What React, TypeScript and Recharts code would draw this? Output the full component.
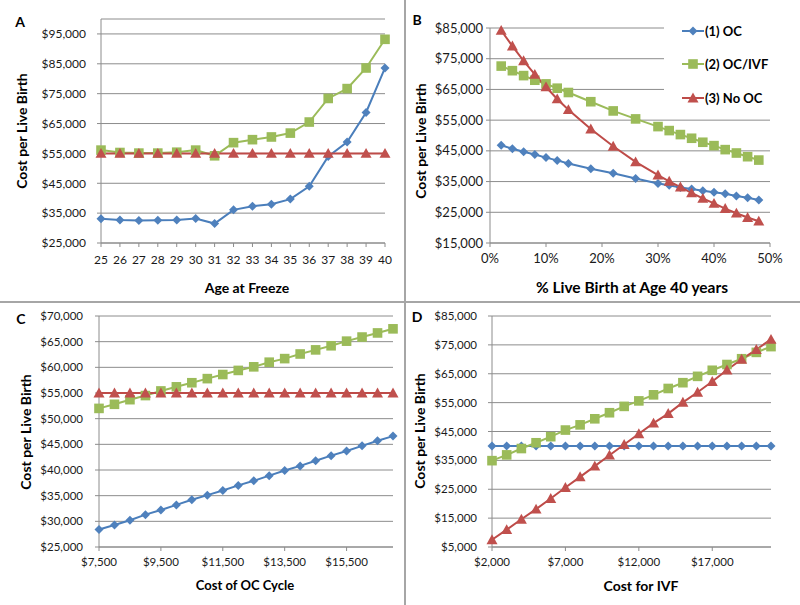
import React from 'react'
import { CartesianGrid, Line, LineChart, XAxis, YAxis } from 'recharts'

// Panel A: age at freeze
const ages = [25, 26, 27, 28, 29, 30, 31, 32, 33, 34, 35, 36, 37, 38, 39, 40]
const ageOC = [33100, 32700, 32500, 32600, 32700, 33200, 31500, 36100, 37300, 38000, 39700, 44000, 54000, 58800, 68700, 83600]
const ageOCIVF = [56100, 55300, 55100, 55100, 55400, 56100, 54200, 58600, 59600, 60500, 61800, 65500, 73400, 76700, 83600, 93200]
const ageNoOC = [55000, 55000, 55000, 55000, 55000, 55000, 55000, 55000, 55000, 55000, 55000, 55000, 55000, 55000, 55000, 55000]
const ageYTicks = [25000, 35000, 45000, 55000, 65000, 75000, 85000, 95000]

// Panel B: % live birth at age 40
const livePct = [2, 4, 6, 8, 10, 12, 14, 18, 22, 26, 30, 32, 34, 36, 38, 40, 42, 44, 46, 48]
const pctOC = [46800, 45700, 44700, 43800, 42800, 41900, 40900, 39200, 37700, 36000, 34400, 33800, 33100, 32600, 32000, 31500, 31000, 30300, 29700, 29000]
const pctOCIVF = [72600, 71100, 69500, 68000, 66800, 65400, 64000, 61000, 58000, 55400, 52900, 51600, 50300, 49100, 47800, 46700, 45400, 44300, 43100, 42000]
const pctNoOC = [84200, 79100, 74300, 69900, 65800, 61900, 58400, 52100, 46500, 41400, 37100, 35100, 33200, 31300, 29500, 27900, 26200, 24700, 23300, 22100]
const pctXTicks = [0, 10, 20, 30, 40, 50]
const pctYTicks = [15000, 25000, 35000, 45000, 55000, 65000, 75000, 85000]

// Panel C: cost of OC cycle
const ocCost = [7500, 8000, 8500, 9000, 9500, 10000, 10500, 11000, 11500, 12000, 12500, 13000, 13500, 14000, 14500, 15000, 15500, 16000, 16500, 17000]
const ocOC = [28400, 29300, 30200, 31300, 32200, 33200, 34200, 35100, 36000, 37000, 37900, 38900, 39900, 40800, 41800, 42800, 43700, 44700, 45700, 46600]
const ocOCIVF = [52000, 52800, 53700, 54500, 55400, 56200, 57000, 57800, 58600, 59400, 60100, 61000, 61700, 62600, 63400, 64200, 65100, 65900, 66700, 67500]
const ocNoOC = [55000, 55000, 55000, 55000, 55000, 55000, 55000, 55000, 55000, 55000, 55000, 55000, 55000, 55000, 55000, 55000, 55000, 55000, 55000, 55000]
const ocXTicks = [7500, 9500, 11500, 13500, 15500]
const ocYTicks = [25000, 30000, 35000, 40000, 45000, 50000, 55000, 60000, 65000, 70000]

// Panel D: cost for IVF
const ivfCost = [2000, 3000, 4000, 5000, 6000, 7000, 8000, 9000, 10000, 11000, 12000, 13000, 14000, 15000, 16000, 17000, 18000, 19000, 20000, 21000]
const ivfOC = [40000, 40000, 40000, 40000, 40000, 40000, 40000, 40000, 40000, 40000, 40000, 40000, 40000, 40000, 40000, 40000, 40000, 40000, 40000, 40000]
const ivfOCIVF = [34900, 36900, 39100, 41100, 43200, 45500, 47300, 49400, 51500, 53700, 55600, 57700, 59900, 61900, 64100, 66200, 68200, 70200, 72400, 74400]
const ivfNoOC = [7500, 11000, 14600, 18100, 21800, 25600, 29300, 33000, 36800, 40500, 44200, 47900, 51200, 55100, 58600, 62300, 66300, 70000, 73400, 76900]
const ivfXTicks = [2000, 7000, 12000, 17000]
const ivfYTicks = [5000, 15000, 25000, 35000, 45000, 55000, 65000, 75000, 85000]

const seriesNames = ['(1) OC', '(2) OC/IVF', '(3) No OC']

const BLUE = '#4a7ebb'
const BLUE_M = '#4f81bd'
const GREEN = '#9bbb59'
const RED = '#be4b48'
const RED_M = '#c0504d'
const GRID = '#8c8c8c'
const FONT = 'Lato, "Open Sans", sans-serif'

const money = (v: number) => '$' + v.toLocaleString('en-US')

function diamond(cx: number, cy: number, r: number, fill: string, key?: string) {
  return <path key={key} d={`M${cx},${cy - r}L${cx + r},${cy}L${cx},${cy + r}L${cx - r},${cy}Z`} fill={fill} />
}
function square(cx: number, cy: number, r: number, fill: string, key?: string) {
  return <rect key={key} x={cx - r} y={cy - r} width={r * 2} height={r * 2} fill={fill} />
}
function triangle(cx: number, cy: number, r: number, fill: string, key?: string) {
  return <path key={key} d={`M${cx},${cy - r}L${cx + r},${cy + r * 0.8}L${cx - r},${cy + r * 0.8}Z`} fill={fill} />
}

const dotOC = (p: any) => (p.cx == null ? <g key={p.key} /> : diamond(p.cx, p.cy, 4.5, BLUE_M, p.key))
const dotOCIVF = (p: any) => (p.cx == null ? <g key={p.key} /> : square(p.cx, p.cy, 4.8, GREEN, p.key))
const dotNoOC = (p: any) => (p.cx == null ? <g key={p.key} /> : triangle(p.cx, p.cy, 5.5, RED_M, p.key))

type PanelProps = {
  xs: number[]
  oc: number[]
  ocivf: number[]
  nooc: number[]
  xDomain: [number, number]
  xTicks: number[]
  xFormat: (v: number) => string
  yDomain: [number, number]
  yTicks: number[]
  plot: { left: number; right: number; top: number; bottom: number }
  height: number
  xTickGap: number
  yTickGap: number
  fontSize: number
}

function Panel(props: PanelProps) {
  const { xs, oc, ocivf, nooc, xDomain, xTicks, xFormat, yDomain, yTicks, plot, height } = props
  const data = xs.map((x, i) => ({ x, oc: oc[i], ocivf: ocivf[i], nooc: nooc[i] }))
  const tick = { fontSize: props.fontSize, fill: '#1a1a1a', fontFamily: FONT }
  return (
    <LineChart
      width={400}
      height={height}
      data={data}
      margin={{ top: plot.top, right: 400 - plot.right, left: 0, bottom: height - plot.bottom - 30 }}
    >
      <CartesianGrid vertical={false} stroke={GRID} />
      <XAxis
        dataKey="x"
        type="number"
        domain={xDomain}
        ticks={xTicks}
        interval={0}
        tickFormatter={xFormat}
        height={30}
        tick={tick}
        tickSize={4}
        tickMargin={props.xTickGap}
        axisLine={{ stroke: GRID }}
        tickLine={{ stroke: GRID }}
      />
      <YAxis
        type="number"
        domain={yDomain}
        ticks={yTicks}
        interval={0}
        tickFormatter={money}
        width={plot.left}
        tick={tick}
        tickSize={4}
        tickMargin={props.yTickGap}
        axisLine={{ stroke: GRID }}
        tickLine={{ stroke: GRID }}
      />
      <Line dataKey="oc" stroke={BLUE} strokeWidth={2} dot={dotOC} isAnimationActive={false} />
      <Line dataKey="ocivf" stroke={GREEN} strokeWidth={2} dot={dotOCIVF} isAnimationActive={false} />
      <Line dataKey="nooc" stroke={RED} strokeWidth={2} dot={dotNoOC} isAnimationActive={false} />
    </LineChart>
  )
}

const boldText: React.CSSProperties = {
  position: 'absolute',
  fontFamily: FONT,
  fontWeight: 700,
  fontSize: 14,
  color: '#000',
  whiteSpace: 'nowrap',
  lineHeight: 1,
}

function XTitle({ text, cx, cy, size = 14 }: { text: string; cx: number; cy: number; size?: number }) {
  return <div style={{ ...boldText, fontSize: size, left: cx, top: cy, transform: 'translate(-50%, -50%)' }}>{text}</div>
}
function YTitle({ cx, cy }: { cx: number; cy: number }) {
  return (
    <div style={{ ...boldText, left: cx, top: cy, transform: 'translate(-50%, -50%) rotate(-90deg)' }}>
      Cost per Live Birth
    </div>
  )
}
function Letter({ text, cx, cy }: { text: string; cx: number; cy: number }) {
  return <div style={{ ...boldText, fontSize: 14, left: cx, top: cy, transform: 'translate(-50%, -50%)' }}>{text}</div>
}

// legend sits over the plot area of panel B, hiding the gridlines behind it
function LegendBox() {
  const marks = [
    (k: string) => diamond(11, 6, 4.5, BLUE_M, k),
    (k: string) => square(11, 6, 4.8, GREEN, k),
    (k: string) => triangle(11, 6, 5.5, RED_M, k),
  ]
  const colors = [BLUE, GREEN, RED]
  const ys = [31, 64, 98]
  return (
    <>
      <div style={{ position: 'absolute', left: 664, top: 12, width: 136, height: 102, background: '#fff' }} />
      {seriesNames.map((name, i) => (
        <React.Fragment key={name}>
          <svg width={22} height={12} style={{ position: 'absolute', left: 682, top: ys[i] - 6 }}>
            <line x1={0} y1={6} x2={22} y2={6} stroke={colors[i]} strokeWidth={2} />
            {marks[i]('m' + i)}
          </svg>
          <div style={{ ...boldText, fontSize: 13, left: 705, top: ys[i], transform: 'translateY(-50%)' }}>{name}</div>
        </React.Fragment>
      ))}
    </>
  )
}

export default function App() {
  return (
    <div style={{ position: 'absolute', left: 0, top: 0, width: 800, height: 605, background: '#fff', overflow: 'hidden' }}>
      <div style={{ position: 'absolute', left: 0, top: 0 }}>
        <Panel
          xs={ages}
          oc={ageOC}
          ocivf={ageOCIVF}
          nooc={ageNoOC}
          xDomain={[25, 40]}
          xTicks={ages}
          xFormat={(v) => String(v)}
          yDomain={[25000, 100000]}
          yTicks={ageYTicks}
          plot={{ left: 101, right: 385, top: 19, bottom: 243 }}
          height={300}
          xTickGap={8}
          yTickGap={11}
          fontSize={12}
        />
      </div>
      <div style={{ position: 'absolute', left: 400, top: 0 }}>
        <Panel
          xs={livePct}
          oc={pctOC}
          ocivf={pctOCIVF}
          nooc={pctNoOC}
          xDomain={[0, 50]}
          xTicks={pctXTicks}
          xFormat={(v) => v + '%'}
          yDomain={[15000, 85000]}
          yTicks={pctYTicks}
          plot={{ left: 90, right: 370, top: 28, bottom: 243 }}
          height={300}
          xTickGap={7}
          yTickGap={3}
          fontSize={13}
        />
      </div>
      <div style={{ position: 'absolute', left: 0, top: 300 }}>
        <Panel
          xs={ocCost}
          oc={ocOC}
          ocivf={ocOCIVF}
          nooc={ocNoOC}
          xDomain={[7500, 17000]}
          xTicks={ocXTicks}
          xFormat={money}
          yDomain={[25000, 70000]}
          yTicks={ocYTicks}
          plot={{ left: 99, right: 393, top: 16, bottom: 247 }}
          height={305}
          xTickGap={7}
          yTickGap={12}
          fontSize={11.5}
        />
      </div>
      <div style={{ position: 'absolute', left: 400, top: 300 }}>
        <Panel
          xs={ivfCost}
          oc={ivfOC}
          ocivf={ivfOCIVF}
          nooc={ivfNoOC}
          xDomain={[2000, 21000]}
          xTicks={ivfXTicks}
          xFormat={money}
          yDomain={[5000, 85000]}
          yTicks={ivfYTicks}
          plot={{ left: 92, right: 371, top: 16, bottom: 247 }}
          height={305}
          xTickGap={7}
          yTickGap={11}
          fontSize={11.5}
        />
      </div>

      <LegendBox />

      <div style={{ position: 'absolute', left: 404, top: 0, width: 2, height: 605, background: '#a6a6a6' }} />
      <div style={{ position: 'absolute', left: 0, top: 301, width: 800, height: 2, background: '#a6a6a6' }} />

      <Letter text="A" cx={20} cy={22} />
      <Letter text="B" cx={417} cy={20} />
      <Letter text="C" cx={21} cy={319} />
      <Letter text="D" cx={417} cy={317} />

      <YTitle cx={22} cy={131} />
      <YTitle cx={421} cy={141} />
      <YTitle cx={26} cy={432} />
      <YTitle cx={420} cy={431} />

      <XTitle text="Age at Freeze" cx={247} cy={288} />
      <XTitle text="% Live Birth at Age 40 years" cx={632} cy={288} size={15.5} />
      <XTitle text="Cost of OC Cycle" cx={245} cy={585} size={13} />
      <XTitle text="Cost for IVF" cx={641} cy={586} />
    </div>
  )
}
